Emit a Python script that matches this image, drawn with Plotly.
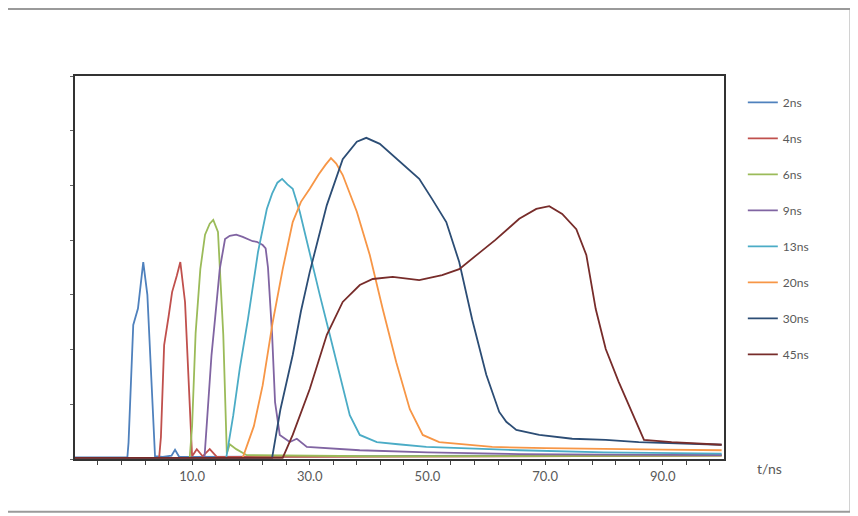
import plotly.graph_objects as go

# pulse shapes (t in ns, intensity in arbitrary units)
t_2ns = [-10, -1.0, -0.8, 0.0, 0.8, 1.7, 2.4, 3.0, 3.7, 5.0, 6.5, 7.1, 7.8, 10, 30, 60, 100]
y_2ns = [0.03, 0.03, 0.3, 2.45, 2.75, 3.6, 3.0, 1.5, 0.05, 0.04, 0.06, 0.17, 0.04, 0.04, 0.05, 0.06, 0.07]

t_4ns = [-10, 4.4, 4.7, 5.25, 6.0, 6.6, 7.4, 8.0, 8.8, 9.4, 10.0, 10.8, 11.8, 13.0, 14.2, 30, 60, 100]
y_4ns = [0.02, 0.02, 0.4, 2.08, 2.6, 3.05, 3.35, 3.6, 2.87, 1.4, 0.05, 0.18, 0.05, 0.18, 0.04, 0.04, 0.05, 0.06]

t_6ns = [-10, 9.6, 10.0, 10.6, 11.4, 12.2, 13.0, 13.6, 14.4, 14.8, 15.3, 15.9, 16.4, 17.5, 19.3, 40, 100]
y_6ns = [0.02, 0.02, 0.6, 2.3, 3.47, 4.1, 4.3, 4.37, 4.15, 3.3, 2.27, 0.1, 0.27, 0.18, 0.07, 0.05, 0.06]

t_9ns = [-10, 12.1, 12.6, 13.3, 13.9, 14.7, 15.6, 16.4, 17.5, 18.6, 20.3, 21.0, 22.0, 22.5, 22.9, 23.6, 24.1,
         24.9, 26.6, 27.8, 29.5, 38.5, 50, 65.6, 80, 100]
y_9ns = [0.02, 0.02, 0.8, 1.9, 2.56, 3.47, 4.02, 4.08, 4.1, 4.06, 3.98, 3.97, 3.91, 3.85, 3.5, 2.27, 1.04,
         0.44, 0.31, 0.37, 0.22, 0.16, 0.12, 0.09, 0.08, 0.07]

t_13ns = [-10, 15.8, 17.0, 18.1, 19.5, 21.2, 22.7, 23.6, 24.5, 25.3, 26.2, 27.1, 28.3, 30.0, 31.7, 33.4,
          35.1, 36.8, 38.5, 41.4, 45.0, 49.8, 65.6, 80, 100]
y_13ns = [0.02, 0.02, 0.8, 1.65, 2.56, 3.78, 4.57, 4.85, 5.05, 5.12, 5.02, 4.94, 4.52, 3.73, 3.0, 2.27,
          1.54, 0.8, 0.44, 0.31, 0.27, 0.22, 0.16, 0.12, 0.1]

t_20ns = [-10, 18.6, 20.5, 22.0, 23.7, 25.4, 27.1, 28.5, 30.0, 31.5, 32.7, 33.6, 34.5, 35.6, 38.0, 40.2,
          42.4, 44.7, 47.0, 49.2, 52.0, 61.0, 70, 80, 90, 100]
y_20ns = [0.02, 0.02, 0.6, 1.35, 2.5, 3.47, 4.33, 4.7, 4.94, 5.2, 5.38, 5.5, 5.4, 5.19, 4.52, 3.73,
          2.74, 1.77, 0.91, 0.44, 0.31, 0.22, 0.2, 0.18, 0.17, 0.16]

t_30ns = [-10, 23.6, 25.0, 27.1, 28.5, 30.0, 32.9, 35.6, 38.0, 39.6, 41.9, 45.3, 48.6, 50.8, 53.2, 55.4,
          57.6, 60.0, 62.2, 63.4, 65.1, 69.0, 74.6, 80.3, 85.9, 100]
y_30ns = [0.02, 0.02, 0.9, 1.9, 2.7, 3.42, 4.64, 5.48, 5.8, 5.87, 5.76, 5.43, 5.12, 4.75, 4.33, 3.6,
          2.55, 1.54, 0.86, 0.68, 0.53, 0.44, 0.37, 0.35, 0.31, 0.26]

t_45ns = [-10, 25.4, 27.1, 30.0, 32.9, 35.6, 38.5, 40.7, 44.1, 48.6, 52.5, 55.4, 58.5, 61.5, 65.6, 68.5,
          70.7, 72.9, 75.3, 77.0, 78.6, 80.3, 82.5, 84.7, 86.8, 91.5, 100]
y_45ns = [0.02, 0.02, 0.44, 1.28, 2.27, 2.87, 3.18, 3.29, 3.33, 3.27, 3.36, 3.47, 3.74, 4.0, 4.39, 4.57,
          4.62, 4.48, 4.2, 3.73, 2.74, 2.01, 1.41, 0.86, 0.35, 0.31, 0.26]

series_names = ['2ns', '4ns', '6ns', '9ns', '13ns', '20ns', '30ns', '45ns']
series_t = [t_2ns, t_4ns, t_6ns, t_9ns, t_13ns, t_20ns, t_30ns, t_45ns]
series_y = [y_2ns, y_4ns, y_6ns, y_9ns, y_13ns, y_20ns, y_30ns, y_45ns]
colors = ['#4F81BD', '#C0504D', '#9BBB59', '#8064A2', '#4BACC6', '#F79646', '#2C4D75', '#772C2A']

x_tick_vals = [10, 30, 50, 70, 90]
x_tick_text = ['10.0', '30.0', '50.0', '70.0', '90.0']

fig = go.Figure()

for name, t, y, c in zip(series_names, series_t, series_y, colors):
    fig.add_trace(go.Scatter(
        x=t, y=y, mode='lines', name=name, legendgroup=name,
        line=dict(color=c, width=1.8)
    ))

fig.update_layout(
    width=858,
    height=516,
    margin=dict(l=67, r=142, t=68, b=65),
    paper_bgcolor='white',
    plot_bgcolor='white',
    font=dict(family='Lato, Liberation Sans, sans-serif', size=13, color='#595959'),
    showlegend=True,
    legend=dict(
        x=1.029, y=0.969, xanchor='left', yanchor='top',
        tracegroupgap=17,
        font=dict(size=12, color='#595959'),
        bgcolor='rgba(0,0,0,0)'
    ),
    xaxis=dict(
        range=[-9.9, 100.4],
        tickvals=x_tick_vals, ticktext=x_tick_text,
        ticks='outside', ticklen=4, tickcolor='#444',
        minor=dict(tick0=10, dtick=4, ticks='outside', ticklen=4, tickcolor='#444'),
        showgrid=False, zeroline=False,
        showline=True, linecolor='#333', linewidth=2, mirror=True
    ),
    yaxis=dict(
        range=[0, 7],
        dtick=1, showticklabels=False,
        ticks='outside', ticklen=3, tickcolor='#666',
        showgrid=False, zeroline=False,
        showline=True, linecolor='#333', linewidth=2, mirror=True
    )
)

fig.add_annotation(
    text='t/ns', x=1.048, y=-0.024, xref='paper', yref='paper',
    showarrow=False, xanchor='left', yanchor='middle',
    font=dict(size=14, color='#595959')
)

# grey frame lines (top, right, bottom) around the picture
frame = dict(color='#9a9a9a', width=2)
fig.add_shape(type='line', xref='paper', yref='paper', x0=-0.11, x1=1.195, y0=1.175, y1=1.175, line=frame)
fig.add_shape(type='line', xref='paper', yref='paper', x0=1.195, x1=1.195, y0=-0.138, y1=1.175, line=frame)
fig.add_shape(type='line', xref='paper', yref='paper', x0=-0.11, x1=1.195, y0=-0.138, y1=-0.138, line=frame)

fig.write_html("out.html")
